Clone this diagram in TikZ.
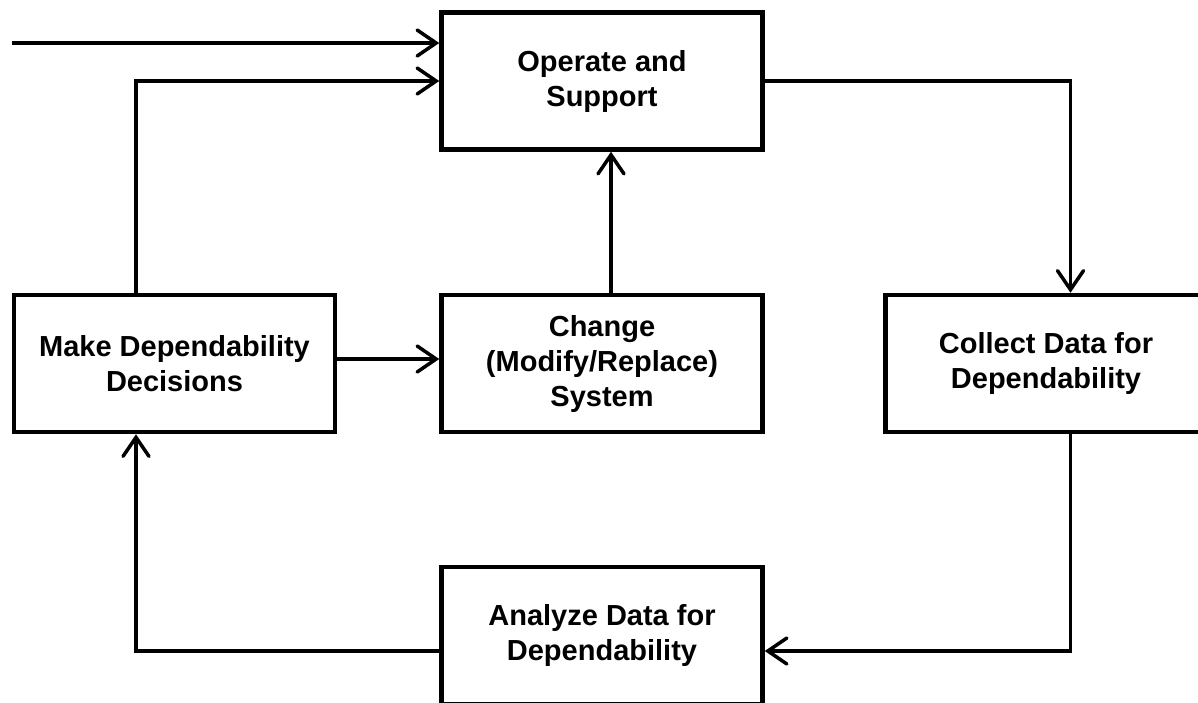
\documentclass[tikz,border=0pt]{standalone}
\usepackage{fontspec}
\setmainfont{Liberation Sans}
\usetikzlibrary{arrows.meta}

\tikzset{
  block/.style={draw=black, line width=4.5pt, fill=white,
    minimum width=321pt, minimum height=137pt, inner sep=0pt,
    align=center, font=\bfseries\fontsize{29}{35}\selectfont},
  flow/.style={line width=3.5pt,
    -{Straight Barb[length=19pt,width=26pt,line cap=round]}}
}

\begin{document}
\begin{tikzpicture}[x=1pt,y=-1pt]
  \useasboundingbox (0,0) rectangle (1198,702);
  \clip (0,0) rectangle (1198,702);
  \fill[white] (0,0) rectangle (1198,702);

  % process blocks
  \node[block] (operate) at (602,81) {Operate and\\Support};
  \node[block] (make) at (174.5,363.5) {Make Dependability\\Decisions};
  \node[block] (change) at (602,363.5) {Change\\(Modify/Replace)\\System};
  \node[block] (collect) at (1046,363.5) {Collect Data for\\Dependability};
  \node[block] (analyze) at (602,635.5) {Analyze Data for\\Dependability};

  % bend points of the loop
  \coordinate (in) at (12,43);
  \coordinate (upL) at (136,81);
  \coordinate (upR) at (1070.5,81);
  \coordinate (lowR) at (1070.5,651);
  \coordinate (lowL) at (136,651);

  % external input into operation
  \draw[flow] (in) -- (operate.west |- in);

  % decisions feed back to operation
  \draw[flow] (make.north -| upL) -- (upL) -- (operate.west |- upL);

  % decisions trigger system change
  \draw[flow] ([yshift=4.5pt]make.east) -- ([yshift=4.5pt]change.west);

  % changed system goes back into operation
  \draw[flow] ([xshift=9pt]change.north) -- ([xshift=9pt]operate.south);

  % operation to data collection
  \draw[flow] (operate.east |- upR) -- (upR) -- (collect.north -| upR);

  % collected data to analysis
  \draw[flow] (collect.south -| lowR) -- (lowR) -- (analyze.east |- lowR);

  % analysis results to decisions
  \draw[flow] (analyze.west |- lowL) -- (lowL) -- (make.south -| lowL);
\end{tikzpicture}
\end{document}
